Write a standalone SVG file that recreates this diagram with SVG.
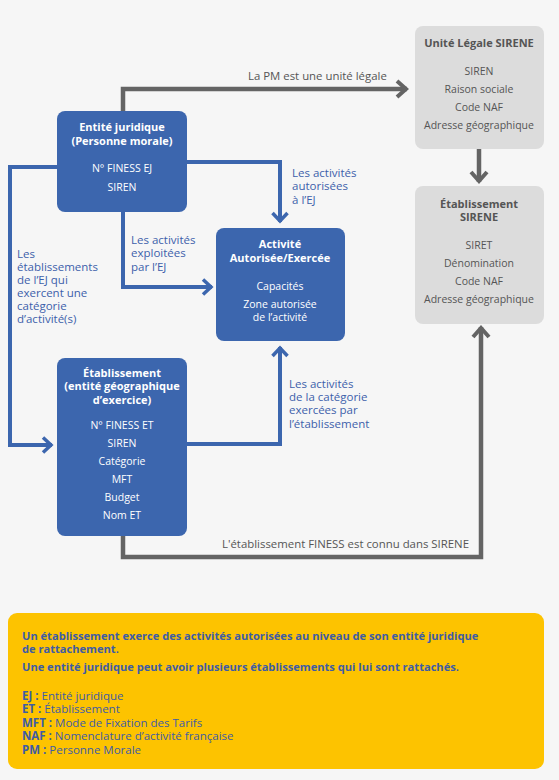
<svg xmlns="http://www.w3.org/2000/svg" width="559" height="780" viewBox="0 0 559 780">
<defs>
<style>
text{font-family:"Open Sans","Noto Sans",sans-serif;font-size:10.5px}
.bbox{fill:#3c66ae}
.gbox{fill:#dcdcdc}
.wt{fill:#ffffff;text-anchor:middle}
.gt{fill:#555555;text-anchor:middle}
.b{font-weight:bold}
.tt{font-size:11px}
.lbl{fill:#3d5fab;font-size:11.5px}
.glbl{fill:#555555;font-size:11.4px}
.bl{fill:none;stroke:#3c66ae;stroke-width:4}
.gl{fill:none;stroke:#646464;stroke-width:4.5}
.yt{fill:#3e5ca6;font-size:11.5px}
.yb{fill:#3e5ca6;font-size:11.1px;font-weight:bold}
</style>
<marker id="ab" markerUnits="userSpaceOnUse" viewBox="-14 -10 16 20" refX="0" refY="0" markerWidth="16" markerHeight="20" orient="auto">
<path d="M-9,-7.5 L-1,0 L-9,7.5" fill="none" stroke="#3c66ae" stroke-width="3.5"/>
</marker>
<marker id="ag" markerUnits="userSpaceOnUse" viewBox="-14 -10 16 20" refX="0" refY="0" markerWidth="16" markerHeight="20" orient="auto">
<path d="M-10,-8 L-1,0 L-10,8" fill="none" stroke="#646464" stroke-width="4"/>
</marker>
</defs>
<rect width="559" height="780" fill="#f6f6f6"/>

<g id="connectors">
<path class="gl" d="M123,113 V89 H407" marker-end="url(#ag)"/>
<path class="gl" d="M479,149 V182" marker-end="url(#ag)"/>
<path class="gl" d="M123,534 V557 H481 V327" marker-end="url(#ag)"/>
<path class="bl" d="M59,167 H10 V445 H52" marker-end="url(#ab)"/>
<path class="bl" d="M185,162 H280 V222" marker-end="url(#ab)"/>
<path class="bl" d="M123,210 V287 H212" marker-end="url(#ab)"/>
<path class="bl" d="M185,444 H280 V347" marker-end="url(#ab)"/>
<text class="glbl" x="248" y="80">La PM est une unité légale</text>
<text class="glbl" x="469" y="548" text-anchor="end">L'établissement FINESS est connu dans SIRENE</text>
<text class="lbl"><tspan x="292" y="177">Les activités</tspan><tspan x="292" y="190">autorisées</tspan><tspan x="292" y="204">à l’EJ</tspan></text>
<text class="lbl"><tspan x="131" y="244">Les activités</tspan><tspan x="131" y="257">exploitées</tspan><tspan x="131" y="271">par l’EJ</tspan></text>
<text class="lbl"><tspan x="17" y="258">Les</tspan><tspan x="17" y="271">établissements</tspan><tspan x="17" y="284">de l’EJ qui</tspan><tspan x="17" y="297">exercent une</tspan><tspan x="17" y="310">catégorie</tspan><tspan x="17" y="323">d’activité(s)</tspan></text>
<text class="lbl"><tspan x="289" y="388">Les activités</tspan><tspan x="289" y="401">de la catégorie</tspan><tspan x="289" y="414">exercées par</tspan><tspan x="289" y="428">l’établissement</tspan></text>
</g>

<g id="ej">
<rect class="bbox" x="57" y="111" width="130" height="101" rx="8"/>
<text class="wt b tt" x="122" y="131">Entité juridique</text>
<text class="wt b tt" x="122" y="145">(Personne morale)</text>
<text class="wt" x="122" y="172">N° FINESS EJ</text>
<text class="wt" x="122" y="191">SIREN</text>
</g>

<g id="unite-legale">
<rect class="gbox" x="415" y="26" width="129" height="123" rx="8"/>
<text class="gt b tt" x="479" y="47">Unité Légale SIRENE</text>
<text class="gt" x="479" y="75">SIREN</text>
<text class="gt" x="479" y="93">Raison sociale</text>
<text class="gt" x="479" y="111">Code NAF</text>
<text class="gt" x="479" y="129">Adresse géographique</text>
</g>

<g id="etab-sirene">
<rect class="gbox" x="415" y="186" width="129" height="138" rx="8"/>
<text class="gt b tt" x="479" y="208">Établissement</text>
<text class="gt b tt" x="479" y="221">SIRENE</text>
<text class="gt" x="479" y="249">SIRET</text>
<text class="gt" x="479" y="267">Dénomination</text>
<text class="gt" x="479" y="285">Code NAF</text>
<text class="gt" x="479" y="303">Adresse géographique</text>
</g>

<g id="activite">
<rect class="bbox" x="216" y="228" width="129" height="113" rx="8"/>
<text class="wt b tt" x="280" y="248">Activité</text>
<text class="wt b tt" x="280" y="262">Autorisée/Exercée</text>
<text class="wt" x="280" y="290">Capacités</text>
<text class="wt" x="280" y="308">Zone autorisée</text>
<text class="wt" x="280" y="321">de l’activité</text>
</g>

<g id="etablissement">
<rect class="bbox" x="57" y="358" width="130" height="178" rx="8"/>
<text class="wt b tt" x="122" y="377">Établissement</text>
<text class="wt b tt" x="122" y="390">(entité géographique</text>
<text class="wt b tt" x="122" y="404">d’exercice)</text>
<text class="wt" x="122" y="429">N° FINESS ET</text>
<text class="wt" x="122" y="447">SIREN</text>
<text class="wt" x="122" y="465">Catégorie</text>
<text class="wt" x="122" y="483">MFT</text>
<text class="wt" x="122" y="501">Budget</text>
<text class="wt" x="122" y="519">Nom ET</text>
</g>

<g id="note">
<rect x="8" y="613" width="536" height="156" rx="9" fill="#fdc300"/>
<text class="yb" x="22" y="640">Un établissement exerce des activités autorisées au niveau de son entité juridique</text>
<text class="yb" x="22" y="653">de rattachement.</text>
<text class="yb" x="22" y="671">Une entité juridique peut avoir plusieurs établissements qui lui sont rattachés.</text>
<text class="yt" x="22" y="700"><tspan class="b">EJ :</tspan> Entité juridique</text>
<text class="yt" x="22" y="713"><tspan class="b">ET :</tspan> Établissement</text>
<text class="yt" x="22" y="727"><tspan class="b">MFT :</tspan> Mode de Fixation des Tarifs</text>
<text class="yt" x="22" y="740"><tspan class="b">NAF :</tspan> Nomenclature d’activité française</text>
<text class="yt" x="22" y="754"><tspan class="b">PM :</tspan> Personne Morale</text>
</g>
</svg>
